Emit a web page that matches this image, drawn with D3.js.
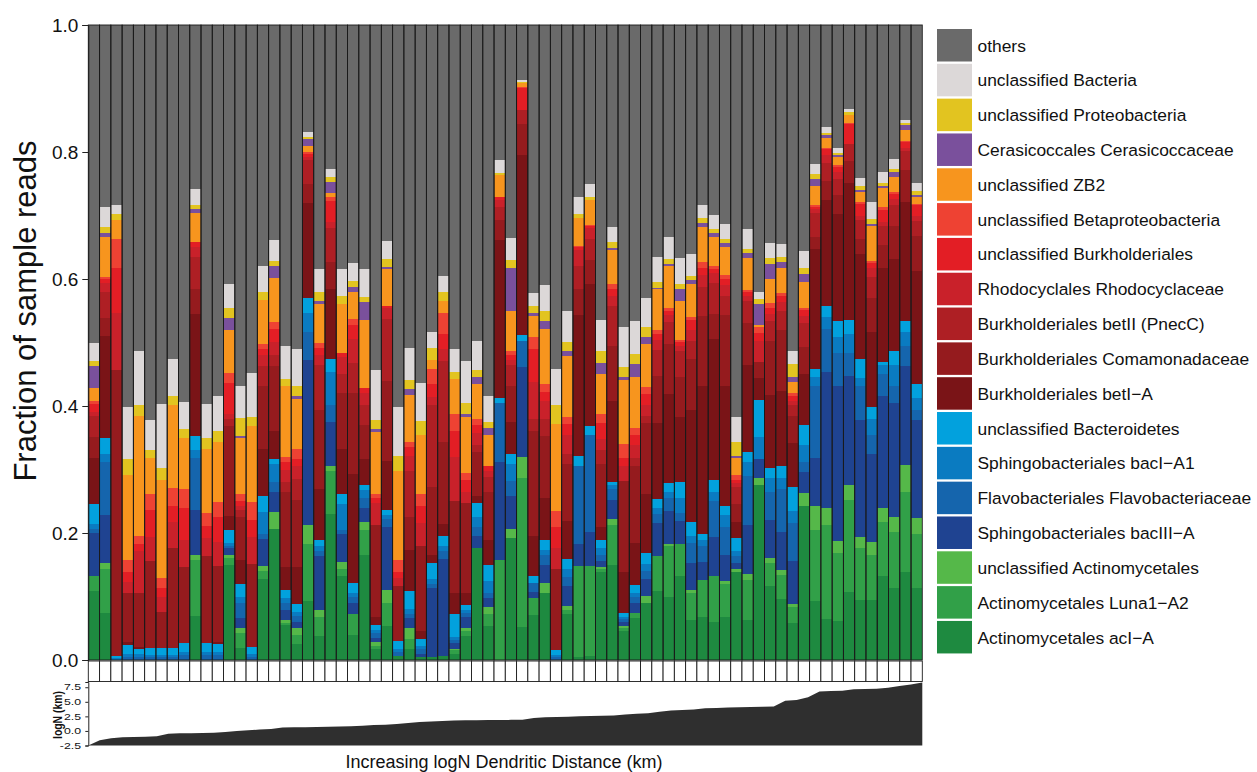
<!DOCTYPE html>
<html>
<head>
<meta charset="utf-8">
<script src="https://cdn.jsdelivr.net/npm/d3@7"></script>
<style>
  html, body { margin: 0; padding: 0; background: #ffffff; }
  svg { display: block; font-family: "Liberation Sans", Arial, Helvetica, sans-serif; }
</style>
</head>
<body>
<svg id="chart" width="1257" height="772"></svg>
<script>
// Relative abundance (fraction of reads) of each taxon per sample,
// samples ordered by increasing logN dendritic distance.
const acIA = [
  .109,.074,0,0,0,0,0,0,0,.070,
  0,0,.150,.019,0,.128,.206,.055,.025,.093,
  .038,.230,.133,.040,.166,.017,.053,.007,.017,.005,
  .005,.007,.010,.038,.176,.053,0,.192,.052,.071,
  .106,0,.073,.005,.007,.139,.149,.045,.066,.090,
  .109,.099,.133,.063,.068,.060,.068,.139,.063,.276,
  .116,.096,.058,.243,.093,.065,.061,.107,.094,.094,
  .133,.113,.138,.114];
const luna1A2 = [
  .024,.069,0,0,0,0,0,0,0,.087,
  0,0,.010,.024,0,.012,0,.003,.015,.089,
  .030,.068,.010,.033,.038,.005,.037,0,.016,0,
  0,0,.005,.007,0,.020,.158,0,.235,.026,
  0,0,.005,.143,.141,.004,.064,.006,.008,0,
  .055,.080,.049,.043,.058,.073,.051,0,.063,0,
  .037,.038,.025,0,.111,.147,.108,.145,.083,.072,
  .084,.089,.127,.084];
const unclActinomycetales = [
  0,.010,0,0,0,0,0,0,0,.009,
  0,0,.006,.008,0,.008,.027,.005,.010,.030,
  .010,.007,.011,0,.013,.006,.021,0,.017,0,
  0,0,.003,.005,0,.010,0,.014,.032,0,
  .015,0,.007,0,0,.003,.009,.002,0,.011,
  0,.003,0,.005,0,0,.005,.004,.010,.011,
  .007,.007,.005,.020,.038,.028,.019,.023,.017,.020,
  .022,.023,.042,.025];
const bacIIIA = [
  .067,.076,0,0,0,0,0,0,0,.071,
  0,0,.010,.015,0,.043,.032,.015,.010,.260,
  .086,.070,.044,.017,.023,.007,.098,0,.016,.005,
  .108,.152,.008,.018,.020,.015,.154,.053,.143,.010,
  .028,0,.031,.034,.054,.010,.030,.007,.016,.026,
  .052,.053,.037,.042,.028,.061,.042,.010,.076,.030,
  .060,.061,.068,.033,.076,.214,.243,.173,.184,.139,
  .177,.180,.156,.155];
const flavobacteriaceae = [
  .007,.083,0,.004,.005,.004,.004,.004,.008,.081,
  .008,.008,.004,.024,.005,.007,.015,.012,.010,.045,
  .008,.026,.007,.010,.015,.007,.013,.006,.007,.007,
  .006,.012,.005,.006,.014,.008,.093,.023,.040,.015,
  .016,.005,.014,.124,.153,.010,.018,.005,.010,.013,
  .014,.020,.013,.032,.026,.056,.044,.010,.078,0,
  .045,.067,.060,.016,.113,.067,.053,.036,.053,.030,
  .035,.027,.031,.015];
const bacIA1 = [
  .007,.013,.003,.006,.005,.004,.004,.004,.005,.012,
  .005,.005,.004,.009,.005,.035,.028,.008,.006,.029,
  .007,.053,.040,.006,.012,.006,.007,.004,.007,.005,
  .009,.008,.006,.004,.015,.019,0,.026,0,0,
  .009,.003,.013,0,0,.010,.005,.003,.006,.011,
  .009,.010,.023,.011,.009,.015,.019,.009,.022,.034,
  .021,.018,.019,.026,.015,.019,.025,.030,.013,.024,
  .013,.032,.023,.019];
const unclBacteroidetes = [
  .031,.024,.004,.013,.007,.011,.011,.011,.014,.023,
  .014,.012,.020,.020,.011,.026,.009,.013,.012,.024,
  .010,.020,.016,.015,.008,.007,.008,.013,.028,.011,
  .025,.017,.035,.008,.022,.024,.008,.017,.010,.010,
  .015,.007,.016,.016,.014,.013,.006,.006,.012,.018,
  .015,.014,.025,.021,.010,.019,.013,.020,.016,.058,
  .017,.018,.038,.032,.013,.018,.025,.021,.030,.020,
  .005,.022,.017,.022];
const betIA = [
  .073,.162,0,.005,.003,0,0,0,0,.192,
  0,.003,.023,.039,0,.074,.044,.036,.058,.150,
  .080,.110,.072,.172,.041,.013,.076,0,.066,.013,
  .013,.018,.034,.020,.012,.040,.248,.050,.283,.064,
  .066,0,.060,.222,.223,.020,.127,.065,.066,.093,
  .119,.140,.103,.176,.233,.222,.190,.025,.136,.035,
  .115,.119,.069,.081,.188,.166,.169,.216,.166,.118,
  .148,.145,.187,.179];
const comamonadaceae = [
  .033,.027,.449,.077,.086,.137,.057,.158,.119,.039,
  .137,.120,.141,.067,.130,.099,.102,.117,.106,.029,
  .124,.043,.088,.128,.054,.144,.126,.086,.051,.133,
  .107,.129,.145,.141,.069,.076,.032,.056,.049,.165,
  .098,.128,.089,.040,.038,.099,.086,.143,.121,.111,
  .075,.078,.063,.081,.110,.039,.112,.028,.066,.026,
  .085,.095,.043,.042,.019,.031,.030,.035,.023,.053,
  .036,.052,.050,.055];
const betII = [
  .034,.042,0,0,0,0,0,0,0,.051,
  0,0,.012,.012,0,.031,.018,.017,.033,.038,
  .071,.053,.030,.047,.031,0,.098,0,.073,0,
  .128,.128,0,0,.010,.023,.020,.033,.022,.019,
  .027,0,.017,.036,.033,.022,.063,0,.013,.012,
  .040,.035,.041,.029,.046,.049,.030,.027,.035,0,
  .031,.031,.016,.038,.038,.027,.024,.026,.030,.033,
  .030,.033,.030,.023];
const rhodocyclaceae = [
  .005,.014,.091,.018,.065,.038,.023,.040,.043,.015,
  .028,.038,.008,.006,.043,.018,.020,.019,.020,.005,
  .017,.010,.026,.038,.019,.035,.017,.013,.024,.037,
  .013,.018,.068,.018,.020,.010,.011,.008,0,.058,
  .028,.033,.030,.025,.017,.018,.017,.023,.020,.016,
  .016,.012,.007,.017,.019,.016,.016,.006,.009,.032,
  .011,.014,.007,.010,.007,.013,.012,0,.007,.014,
  .007,.010,.005,.009];
const unclBurkholderiales = [
  .013,.006,.070,.016,.011,.043,.015,.026,.051,.008,
  .019,.039,.048,.007,.026,.008,.021,.012,.011,.005,
  .010,.033,.007,.021,.008,.008,.004,.010,.013,.026,
  .020,.025,.042,.018,.012,.007,.005,.009,.035,.051,
  .014,.033,.016,.005,.003,.025,.010,.013,.017,.018,
  .009,.006,.007,.016,.010,.006,.010,.005,.006,.013,
  .009,.010,.008,.010,.003,.009,.007,.032,.018,.008,
  .018,.008,.010,.016];
const unclBetaproteobacteria = [
  .005,.003,.046,.019,.014,.025,.015,.028,.029,0,
  .021,.024,.016,.012,.029,.008,.010,.008,.016,.003,
  .008,.006,0,.010,0,.007,0,.019,.008,.020,
  .025,.032,.027,.012,.009,0,0,.006,.002,.020,
  .012,.026,.012,.002,.002,.015,.008,.022,.010,.011,
  .006,.005,.003,.004,.009,.005,.007,.009,.003,.010,
  .008,.004,.005,.003,.002,.002,.003,.002,.003,.004,
  .005,.003,.002,.002];
const unclZB2 = [
  .020,.063,.030,.134,.189,.056,.154,.130,.080,.046,
  .100,.094,.067,.087,.119,.070,.070,.111,.079,.010,
  .061,.007,.076,.043,.108,.097,.057,.139,.075,.093,
  .013,.019,.054,.088,.055,.050,.034,.063,.006,.033,
  .088,.136,.096,.044,.039,.063,.053,.101,.081,.067,
  .065,.065,.061,.052,.056,.045,.043,.026,.050,.003,
  .038,.039,.017,.042,.030,.016,.013,.013,.016,.054,
  .030,.024,.016,.011];
const cerasicoccaceae = [
  .035,.007,0,0,0,0,0,0,0,.006,
  0,0,.019,.004,0,0,.019,0,.004,.010,
  .005,.017,0,.007,.028,.004,.004,0,.008,0,
  0,0,0,.004,.012,.011,0,.067,0,.005,
  .012,0,.007,0,0,.016,.004,.004,.020,.012,
  .002,.003,.019,.007,.006,.007,.006,.004,.008,.032,
  .023,.010,.008,.012,.012,.004,.003,0,.003,.003,
  .003,.008,.008,.003];
const unclProteobacteria = [
  .008,.009,.009,.025,.016,.012,.019,.015,.014,.006,
  .017,.017,.016,.028,.015,.013,.008,.011,.016,.004,
  .015,.008,.014,.010,.008,.015,.012,.025,.015,.021,
  .020,.015,.012,.018,.010,.009,.004,.013,.002,.010,
  .015,.030,.015,.006,.005,.020,.009,.017,.016,.015,
  .009,.009,.008,.006,.008,.005,.007,.021,.007,.009,
  .010,.008,.020,.010,.008,.004,.004,.004,.006,.008,
  .005,.004,.003,.007];
const unclBacteria = [
  .029,.032,.014,.082,.085,.048,.101,.058,.044,.025,
  .054,.056,.038,.051,.069,.040,.033,.052,.058,.008,
  .035,.013,.041,.028,.043,.078,.029,.076,.051,.060,
  .025,.025,.035,.066,.046,.041,.020,.035,.003,.021,
  .041,.058,.049,.027,.020,.049,.024,.063,.052,.046,
  .040,.034,.041,.034,.020,.023,.023,.040,.030,.011,
  .023,.020,.021,.026,.015,.009,.008,.004,.013,.027,
  .018,.016,.006,.012];
const others = [
  .500,.286,.284,.601,.514,.622,.597,.526,.593,.259,
  .597,.584,.408,.568,.548,.380,.338,.506,.511,.168,
  .385,.226,.385,.375,.385,.544,.340,.602,.508,.564,
  .483,.395,.511,.529,.498,.584,.213,.335,.086,.422,
  .410,.541,.450,.271,.251,.464,.318,.475,.466,.430,
  .365,.334,.367,.361,.284,.299,.314,.617,.322,.420,
  .344,.345,.513,.356,.219,.161,.193,.133,.241,.279,
  .231,.211,.149,.249];

// logN dendritic distance (km) of each sample, same order as above
const logDistance = [
  -2.5,-1.6,-1.25,-1.1,-1.05,-1.0,-0.9,-0.5,-0.4,-0.38,
  -0.35,-0.3,-0.2,0.0,0.1,0.25,0.35,0.6,0.62,0.65,
  0.66,0.72,0.75,0.8,0.9,1.0,1.08,1.2,1.35,1.55,
  1.62,1.72,1.8,1.82,1.84,1.86,1.88,1.9,1.92,2.2,
  2.35,2.4,2.45,2.5,2.55,2.6,2.65,2.8,2.95,3.05,
  3.3,3.5,3.6,3.68,3.9,3.95,4.02,4.08,4.12,4.16,
  4.2,5.2,5.3,5.8,6.75,6.85,6.9,7.15,7.2,7.25,
  7.4,7.7,7.95,8.3];

// Taxa in stacking order (bottom to top) with their labels and colours
const taxa = [
  { key: "acIA",    label: "Actinomycetales acI\u2212A",            color: "#1e8a40", values: acIA },
  { key: "luna",    label: "Actinomycetales Luna1\u2212A2",         color: "#31a048", values: luna1A2 },
  { key: "uAct",    label: "unclassified Actinomycetales",          color: "#55b849", values: unclActinomycetales },
  { key: "bacIII",  label: "Sphingobacteriales bacIII\u2212A",      color: "#1f4391", values: bacIIIA },
  { key: "flavo",   label: "Flavobacteriales Flavobacteriaceae",    color: "#1565ad", values: flavobacteriaceae },
  { key: "bacI",    label: "Sphingobacteriales bacI\u2212A1",       color: "#0a7bc1", values: bacIA1 },
  { key: "uBact",   label: "unclassified Bacteroidetes",            color: "#02a1dd", values: unclBacteroidetes },
  { key: "betI",    label: "Burkholderiales betI\u2212A",           color: "#7a1417", values: betIA },
  { key: "coma",    label: "Burkholderiales Comamonadaceae",        color: "#951b1e", values: comamonadaceae },
  { key: "betII",   label: "Burkholderiales betII (PnecC)",         color: "#ae1f24", values: betII },
  { key: "rhodo",   label: "Rhodocyclales Rhodocyclaceae",          color: "#c9212a", values: rhodocyclaceae },
  { key: "uBurk",   label: "unclassified Burkholderiales",          color: "#e31e25", values: unclBurkholderiales },
  { key: "uBeta",   label: "unclassified Betaproteobacteria",       color: "#ee4233", values: unclBetaproteobacteria },
  { key: "zb2",     label: "unclassified ZB2",                      color: "#f7951e", values: unclZB2 },
  { key: "cera",    label: "Cerasicoccales Cerasicoccaceae",        color: "#7a509c", values: cerasicoccaceae },
  { key: "uProt",   label: "unclassified Proteobacteria",           color: "#e2c420", values: unclProteobacteria },
  { key: "uBac",    label: "unclassified Bacteria",                 color: "#dcd8d8", values: unclBacteria },
  { key: "others",  label: "others",                                color: "#6a6a6a", values: others }
];

const nSamples = others.length;
const rows = d3.range(nSamples).map(i => {
  const r = { idx: i };
  taxa.forEach(t => { r[t.key] = t.values[i]; });
  return r;
});

const svg = d3.select("#chart");

// ---------- scales ----------
const x = d3.scaleBand().domain(d3.range(nSamples)).range([88.3, 922.3]).padding(0);
const y = d3.scaleLinear().domain([0, 1]).range([660, 25]);

// ---------- stacked bars ----------
const series = d3.stack().keys(taxa.map(t => t.key))(rows);
const colorOf = Object.fromEntries(taxa.map(t => [t.key, t.color]));

const gBars = svg.append("g");
gBars.selectAll("g.layer")
  .data(series)
  .join("g")
    .attr("class", "layer")
    .attr("fill", s => colorOf[s.key])
  .selectAll("rect")
  .data(s => s)
  .join("rect")
    .attr("x", d => x(d.data.idx))
    .attr("width", x.bandwidth())
    .attr("y", d => y(Math.min(1, d[1])))
    .attr("height", d => Math.max(0, y(d[0]) - y(Math.min(1, d[1]))))
    .attr("shape-rendering", "crispEdges");

// thin outline around every bar
gBars.selectAll("rect.outline")
  .data(d3.range(nSamples))
  .join("rect")
    .attr("class", "outline")
    .attr("x", i => x(i))
    .attr("width", x.bandwidth())
    .attr("y", y(1))
    .attr("height", y(0) - y(1))
    .attr("fill", "none")
    .attr("stroke", "#1a1a1a")
    .attr("stroke-width", 0.9);

// ---------- y axis ----------
const yAxis = d3.axisLeft(y)
  .tickValues([0, 0.2, 0.4, 0.6, 0.8, 1.0])
  .tickFormat(d => d.toFixed(1))
  .tickSize(6)
  .tickPadding(4);
const gy = svg.append("g").attr("transform", "translate(88.3,0)").call(yAxis);
gy.select(".domain").attr("stroke", "#222");
gy.selectAll(".tick line").attr("stroke", "#222");
gy.selectAll(".tick text")
  .attr("font-size", 19)
  .attr("fill", "#111")
  .style("font-family", "'Liberation Sans', Arial, sans-serif");

svg.append("text")
  .attr("transform", "translate(36,311) rotate(-90)")
  .attr("text-anchor", "middle")
  .attr("font-size", 31)
  .attr("fill", "#111")
  .text("Fraction of sample reads");

// ---------- sample boxes under the bars ----------
svg.append("g").selectAll("rect")
  .data(d3.range(nSamples))
  .join("rect")
    .attr("x", i => x(i))
    .attr("width", x.bandwidth())
    .attr("y", 661)
    .attr("height", 20.5)
    .attr("fill", "#ffffff")
    .attr("stroke", "#1a1a1a")
    .attr("stroke-width", 0.9);

// ---------- logN distance panel ----------
const xd = d3.scaleLinear().domain([0, nSamples - 1]).range([88.3, 922.3]);
const yd = d3.scaleLinear().domain([-2.5, 8.4]).range([745.5, 682]);

const area = d3.area()
  .x((d, i) => xd(i))
  .y0(yd(-2.5))
  .y1(d => yd(d));

svg.append("path")
  .datum(logDistance)
  .attr("d", area)
  .attr("fill", "#2f2f2f");

const ydAxis = d3.axisLeft(yd)
  .tickValues([-2.5, 0, 2.5, 5, 7.5])
  .tickFormat(d => d.toFixed(1))
  .tickSize(3)
  .tickPadding(2);
const gyd = svg.append("g").attr("transform", "translate(88.3,0)").call(ydAxis);
gyd.select(".domain").attr("stroke", "#222");
gyd.selectAll(".tick line").attr("stroke", "#222");
// this small panel uses a horizontally widened type
gyd.selectAll(".tick text")
  .attr("font-size", 8.5)
  .attr("fill", "#111")
  .attr("transform", "scale(1.45,1)")
  .style("font-family", "'Liberation Sans', Arial, sans-serif");

svg.append("text")
  .attr("transform", "translate(61.5,715) rotate(-90) scale(1,1.25)")
  .attr("text-anchor", "middle")
  .attr("font-size", 10.4)
  .attr("font-weight", "bold")
  .attr("fill", "#111")
  .text("logN (km)");

svg.append("text")
  .attr("x", 504)
  .attr("y", 768)
  .attr("text-anchor", "middle")
  .attr("font-size", 18)
  .attr("fill", "#111")
  .text("Increasing logN Dendritic Distance (km)");

// ---------- legend ----------
const legendItems = taxa.slice().reverse();
const gLeg = svg.append("g").attr("transform", "translate(937,29)");
const step = 34.82;
const leg = gLeg.selectAll("g")
  .data(legendItems)
  .join("g")
    .attr("transform", (d, i) => `translate(0,${i * step})`);
leg.append("rect")
  .attr("width", 35)
  .attr("height", 32.5)
  .attr("fill", d => d.color);
leg.append("text")
  .attr("x", 40.5)
  .attr("y", 16.5)
  .attr("dy", "0.35em")
  .attr("font-size", 17.4)
  .attr("fill", "#111")
  .text(d => d.label);
</script>
</body>
</html>
